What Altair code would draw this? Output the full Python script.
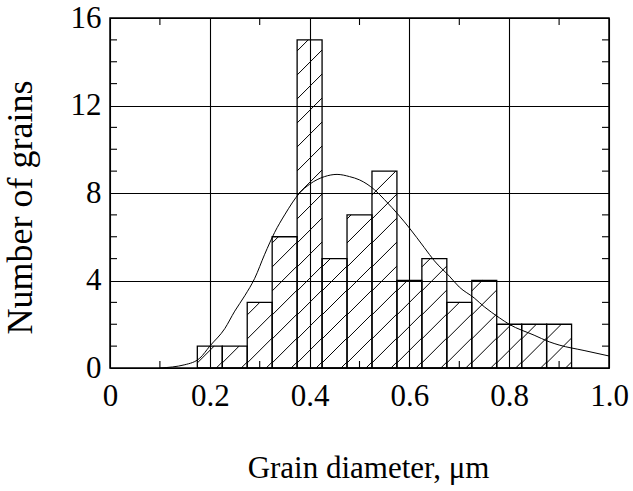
import altair as alt
import pandas as pd

# ---- data ----
bin_centers = [0.20, 0.25, 0.30, 0.35, 0.40, 0.45, 0.50, 0.55, 0.60, 0.65, 0.70, 0.75, 0.80, 0.85, 0.90]
counts      = [1,    1,    3,    6,    15,   5,    7,    9,    4,    5,    3,    4,    2,    2,    2]
bin_width = 0.05

curve_x = [0.10, 0.15, 0.18, 0.20, 0.23, 0.25, 0.27, 0.29, 0.31, 0.33, 0.35, 0.38, 0.40, 0.43,
           0.455, 0.48, 0.50, 0.53, 0.55, 0.58, 0.60, 0.63, 0.65, 0.68, 0.70, 0.73, 0.75, 0.78,
           0.80, 0.85, 0.88, 0.90, 0.95, 1.00]
curve_y = [0.0, 0.15, 0.45, 1.0, 1.8, 2.6, 3.3, 4.1, 5.2, 6.2, 7.0, 8.0, 8.4, 8.75,
           8.85, 8.75, 8.6, 8.15, 7.7, 6.95, 6.4, 5.5, 4.9, 4.2, 3.7, 3.2, 2.8, 2.3,
           2.0, 1.5, 1.2, 1.05, 0.8, 0.55]

x_ticks = [0, 0.2, 0.4, 0.6, 0.8, 1.0]
y_ticks = [0, 4, 8, 12, 16]
x_minor = [0.1, 0.3, 0.5, 0.7, 0.9]
y_minor = [1, 2, 3, 5, 6, 7, 9, 10, 11, 13, 14, 15]

W, H = 499, 350
YMAX = 16
FONT = "Liberation Serif"

bars = pd.DataFrame({
    "x0": [c - bin_width / 2 for c in bin_centers],
    "x1": [c + bin_width / 2 for c in bin_centers],
    "n": counts,
})

# hatch lines (45 degrees in screen space) clipped to each bar
px_x = W / 1.0
px_y = H / YMAX
spacing = 24.0
segs = []
for x0, x1, h in zip(bars["x0"], bars["x1"], bars["n"]):
    L, R, T = x0 * px_x, x1 * px_x, h * px_y
    c = -(R - L) + 6.0
    while c < T:
        xa = max(L, L - c)
        xb = min(R, L - c + T)
        if xb > xa + 0.5:
            segs.append({"hx": xa / px_x, "hy": (xa - L + c) / px_y,
                         "hx2": xb / px_x, "hy2": (xb - L + c) / px_y})
        c += spacing
hatch = pd.DataFrame(segs)

curve = pd.DataFrame({"d": curve_x, "f": curve_y})

xscale = alt.Scale(domain=[0, 1], nice=False, zero=False)
yscale = alt.Scale(domain=[0, YMAX], nice=False)

X_AX = alt.Axis(
    values=x_ticks, labelExpr="datum.value == 0 ? '0' : format(datum.value, '.1f')",
    title="Grain diameter, \u03bcm", grid=True, ticks=False, tickSize=0, domain=False,
    labelPadding=13, labelFont=FONT, labelFontSize=31, labelColor="black",
    labelFlush=False, labelOverlap=False,
    titleFont=FONT, titleFontSize=31, titleFontWeight="normal", titleColor="black",
    titleX=258, titleY=109, titleAlign="center", titleBaseline="alphabetic", titleAngle=0,
    gridColor="black", gridWidth=1.1, gridOpacity=1,
)
Y_AX = alt.Axis(
    values=y_ticks, title="Number of grains", grid=True, ticks=False, tickSize=0, domain=False,
    labelPadding=9, labelFont=FONT, labelFontSize=31, labelColor="black",
    labelFlush=False, labelOverlap=False,
    titleFont=FONT, titleFontSize=36, titleFontWeight="normal", titleColor="black",
    titleX=-79, titleY=189, titleAlign="center", titleBaseline="alphabetic", titleAngle=270,
    gridColor="black", gridWidth=1.1, gridOpacity=1,
)

bar_layer = alt.Chart(bars).mark_rect(fill=None, stroke="black", strokeWidth=1.3).encode(
    x=alt.X("x0:Q", scale=xscale, axis=X_AX), x2="x1:Q",
    y=alt.Y("n:Q", scale=yscale, axis=Y_AX), y2=alt.datum(0),
)

hatch_layer = alt.Chart(hatch).mark_rule(color="black", strokeWidth=1.0).encode(
    x=alt.X("hx:Q", scale=xscale, axis=X_AX), x2="hx2:Q",
    y=alt.Y("hy:Q", scale=yscale, axis=Y_AX), y2="hy2:Q",
)

curve_layer = alt.Chart(curve).mark_line(color="black", strokeWidth=1.0, interpolate="monotone").encode(
    x=alt.X("d:Q", scale=xscale, axis=X_AX),
    y=alt.Y("f:Q", scale=yscale, axis=Y_AX),
)

xm = pd.DataFrame({"t": x_minor})
ym = pd.DataFrame({"v": y_minor})
tick_bottom = alt.Chart(xm).mark_rule(color="black", strokeWidth=1.1).encode(
    x=alt.X("t:Q", scale=xscale, axis=X_AX), y=alt.value(H), y2=alt.value(H - 7))
tick_top = alt.Chart(xm).mark_rule(color="black", strokeWidth=1.1).encode(
    x=alt.X("t:Q", scale=xscale, axis=X_AX), y=alt.value(0), y2=alt.value(7))
tick_left = alt.Chart(ym).mark_rule(color="black", strokeWidth=1.1).encode(
    y=alt.Y("v:Q", scale=yscale, axis=Y_AX), x=alt.value(0), x2=alt.value(7))
tick_right = alt.Chart(ym).mark_rule(color="black", strokeWidth=1.1).encode(
    y=alt.Y("v:Q", scale=yscale, axis=Y_AX), x=alt.value(W), x2=alt.value(W - 7))

chart = alt.layer(
    bar_layer, hatch_layer, curve_layer, tick_bottom, tick_top, tick_left, tick_right
).properties(
    width=W, height=H,
    autosize=alt.AutoSizeParams(type="none"),
    padding={"left": 110, "top": 18, "right": 24, "bottom": 123},
    background="white",
).configure_view(stroke="black", strokeWidth=1.5)

chart.save("out.html", embed_options={"renderer": "svg", "actions": False})
